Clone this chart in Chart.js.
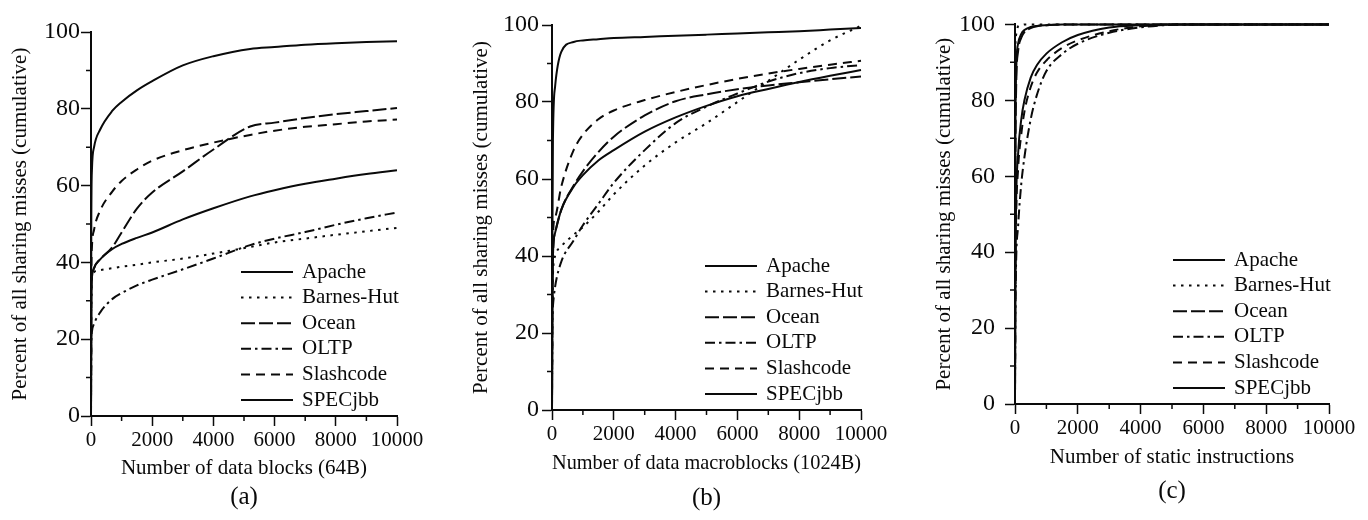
<!DOCTYPE html>
<html>
<head>
<meta charset="utf-8">
<title>Sharing miss footprint</title>
<script src="https://cdn.jsdelivr.net/npm/chart.js@4.4.1/dist/chart.umd.min.js"></script>
<style>
  html, body { margin: 0; padding: 0; background: #fff; }
  #wrap { position: relative; width: 1368px; height: 520px; overflow: hidden; }
  #wrap canvas { position: absolute; top: 0; }
</style>
</head>
<body>
<div id="wrap">
  <canvas id="chart_a" width="456" height="520" style="left:0px"></canvas>
  <canvas id="chart_b" width="456" height="520" style="left:456px"></canvas>
  <canvas id="chart_c" width="456" height="520" style="left:912px"></canvas>
</div>
<script>
// workloads, in legend order
var workloads = ['Apache', 'Barnes-Hut', 'Ocean', 'OLTP', 'Slashcode', 'SPECjbb'];

// axis ticks (labelled) and the small in-between ticks
var xTicks = [0, 2000, 4000, 6000, 8000, 10000];
var xMinor = [1000, 3000, 5000, 7000, 9000];
var yTicks = [0, 20, 40, 60, 80, 100];
var yMinor = [10, 30, 50, 70, 90];

// (a) data blocks (64B)
var blocksX         = [0, 10, 30, 100, 300, 700, 1000, 1500, 2000, 3000, 4000, 5200, 6000, 7000, 8000, 9000, 10000];
var blocksApache    = [0, 30, 36, 38.5, 40.8, 43.5, 44.8, 46.4, 47.8, 51.2, 54.1, 57.2, 58.8, 60.5, 61.8, 63.0, 64.0];
var blocksBarnes    = [0, 30, 36, 37.5, 38, 38.5, 38.9, 39.4, 40, 41, 42.3, 44, 45.2, 46.2, 47.2, 48.1, 49];
var blocksOcean     = [0, 30, 36, 38.5, 40.8, 44, 47.8, 54, 58.2, 63.7, 69.4, 75.4, 76.4, 77.6, 78.6, 79.4, 80.2];
var blocksOLTP      = [0, 18, 22, 24, 27, 30.5, 32, 34, 35.5, 38.2, 41, 44.5, 46.2, 47.9, 49.8, 51.5, 53];
var blocksSlashcode = [0, 35, 44, 48.5, 53.5, 58.5, 61.2, 64.2, 66.5, 69.2, 71.2, 73.2, 74.3, 75.3, 76.0, 76.7, 77.2];
var blocksSPECjbb   = [0, 50, 64, 70, 74.6, 79.5, 81.8, 84.8, 87.2, 91.3, 93.7, 95.6, 96.1, 96.7, 97.1, 97.4, 97.6];

// (b) data macroblocks (1024B)
var macroX         = [0, 10, 30, 100, 300, 700, 1000, 1500, 2000, 3000, 4000, 5000, 6000, 7000, 8000, 9000, 10000];
var macroApache    = [0, 25, 40, 46, 52, 58, 61, 64.8, 67.5, 72.3, 76, 79, 81.5, 83.4, 85.2, 86.8, 88.3];
var macroBarnes    = [0, 25, 35, 40, 42.5, 45.5, 47.5, 51.5, 56, 63.5, 69.5, 74.5, 80, 85.5, 91, 96, 99.8];
var macroOcean     = [0, 25, 40, 46, 52, 58.3, 62, 67, 71, 76.5, 80.2, 82, 83.3, 84.3, 85.1, 85.9, 86.6];
var macroOLTP      = [0, 22, 27, 32, 38.5, 44, 48, 53.5, 59, 67.5, 74.5, 78.8, 82.2, 85.3, 87.5, 88.8, 89.6];
var macroSlashcode = [0, 20, 45, 50, 58, 67.5, 71.5, 75.5, 77.8, 80.5, 82.6, 84.4, 86, 87.4, 88.6, 89.7, 90.7];
var macroSPECjbb   = [0, 40, 70, 84, 93, 95.6, 96.0, 96.3, 96.6, 96.9, 97.2, 97.5, 97.8, 98.1, 98.4, 98.8, 99.2];

// (c) static instructions
var instrX         = [0, 10, 30, 100, 200, 300, 500, 700, 1000, 1500, 2000, 3000, 4000, 5000, 6000, 7000, 8000, 9000, 10000];
var instrApache    = [0, 30, 50, 66, 75, 80, 86, 89.3, 92.3, 95.3, 97.2, 99.2, 99.8, 100, 100, 100, 100, 100, 100];
var instrBarnes    = [0, 90, 97, 99.5, 99.8, 100, 100, 100, 100, 100, 100, 100, 100, 100, 100, 100, 100, 100, 100];
var instrOcean     = [0, 55, 80, 93, 96.5, 98, 99, 99.5, 99.8, 100, 100, 100, 100, 100, 100, 100, 100, 100, 100];
var instrOLTP      = [0, 20, 35, 47, 58, 65, 75, 81.5, 87.7, 92.2, 94.9, 97.8, 99.2, 99.9, 100, 100, 100, 100, 100];
var instrSlashcode = [0, 28, 46, 62, 71, 77, 83.5, 87.3, 90.5, 93.8, 95.8, 98.2, 99.5, 99.9, 100, 100, 100, 100, 100];
var instrSPECjbb   = [0, 60, 85, 95, 97.5, 98.5, 99.3, 99.6, 99.8, 100, 100, 100, 100, 100, 100, 100, 100, 100, 100];

// line pattern per workload
var dashes = [[], [2.5, 5.5], [14, 4], [10, 4, 2.5, 4], [9, 6], []];

var ink = '#0a0a0a';
var serif = '"Liberation Serif", "Times New Roman", serif';
Chart.defaults.font.family = serif;
Chart.defaults.color = ink;

function toPoints(xs, ys) {
	return xs.map(function(x, i) { return { x: x, y: ys[i] }; });
}

function makeDatasets(xs, rows) {
	return rows.map(function(ys, i) {
		return {
			label           : workloads[i],
			data            : toPoints(xs, ys),
			borderColor     : ink,
			borderWidth     : 2,
			borderDash      : dashes[i],
			borderCapStyle  : 'butt',
			pointRadius     : 0,
			fill            : false,
			cubicInterpolationMode : 'monotone',
			clip            : 4
		};
	});
}

// short unlabelled ticks between the numbered ones
var minorTicks = {
	id : 'minorTicks',
	afterDraw : function(chart) {
		var ctx = chart.ctx, xs = chart.scales.x, ys = chart.scales.y;
		ctx.save();
		ctx.strokeStyle = ink;
		ctx.lineWidth = 1.5;
		ctx.beginPath();
		xMinor.forEach(function(v) {
			var px = xs.getPixelForValue(v);
			ctx.moveTo(px, xs.top);
			ctx.lineTo(px, xs.top + 5);
		});
		yMinor.forEach(function(v) {
			var py = ys.getPixelForValue(v);
			ctx.moveTo(ys.right, py);
			ctx.lineTo(ys.right - 5, py);
		});
		ctx.stroke();
		ctx.restore();
	}
};

// key drawn inside the plot, lower right corner
var insideLegend = {
	id : 'insideLegend',
	afterDatasetsDraw : function(chart) {
		var ctx = chart.ctx, area = chart.chartArea;
		var sets = chart.data.datasets, n = sets.length;
		ctx.save();
		ctx.font = '21px ' + serif;
		ctx.textBaseline = 'middle';
		ctx.textAlign = 'left';
		sets.forEach(function(ds, i) {
			var y = area.bottom - 16 - (n - 1 - i) * 25.6;
			ctx.strokeStyle = ds.borderColor;
			ctx.lineWidth = ds.borderWidth;
			ctx.setLineDash(ds.borderDash);
			ctx.beginPath();
			ctx.moveTo(area.right - 156, y);
			ctx.lineTo(area.right - 104, y);
			ctx.stroke();
			ctx.setLineDash([]);
			ctx.fillStyle = ink;
			ctx.fillText(ds.label, area.right - 95, y);
		});
		ctx.restore();
	}
};

// where each plot sits on the page
var panels = [
	{ id: 'chart_a', left: 0,   plot: { l: 91,   r: 397,  t: 32, b: 416 }, yTitleX: 20.5, xTitleY: 468, capY: 497.5, yPad: 1,
	  xTitle: 'Number of data blocks (64B)', caption: '(a)',
	  xs: blocksX, rows: [blocksApache, blocksBarnes, blocksOcean, blocksOLTP, blocksSlashcode, blocksSPECjbb] },
	{ id: 'chart_b', left: 456, plot: { l: 552,  r: 861,  t: 25, b: 410 }, yTitleX: 481, xTitleY: 463, capY: 498, yPad: 3,
	  xTitle: 'Number of data macroblocks (1024B)', caption: '(b)',
	  xs: macroX, rows: [macroApache, macroBarnes, macroOcean, macroOLTP, macroSlashcode, macroSPECjbb] },
	{ id: 'chart_c', left: 912, plot: { l: 1015, r: 1329, t: 18, b: 404 }, yTitleX: 944, xTitleY: 457, capY: 491, yPad: 10,
	  xTitle: 'Number of static instructions', caption: '(c)',
	  xs: instrX, rows: [instrApache, instrBarnes, instrOcean, instrOLTP, instrSlashcode, instrSPECjbb] }
];

var W = 456, H = 520, titleLine = 21 * 1.2, capLine = 25 * 1.2;

panels.forEach(function(p) {
	var capPad = (H - capLine) + capLine / 2 - p.capY;      // gap under the caption
	var capBox = capLine + capPad;
	var xHeight = H - capBox - p.plot.b;
	var xTitlePad = (H - capBox) - p.xTitleY - titleLine / 2;
	var yTitlePad = (p.yTitleX - p.left) - titleLine / 2;

	new Chart(document.getElementById(p.id).getContext('2d'), {
		type    : 'line',
		data    : { datasets: makeDatasets(p.xs, p.rows) },
		options : {
			responsive : false,
			animation  : false,
			layout     : { padding: { top: p.plot.t, right: W - (p.plot.r - p.left), left: 0, bottom: 0 } },
			plugins    : {
				legend  : { display: false },
				tooltip : { enabled: false },
				title   : {
					display  : true,
					position : 'bottom',
					fullSize : false,
					text     : p.caption,
					color    : ink,
					font     : { size: 25, weight: 'normal', family: serif },
					padding  : { top: 0, bottom: capPad }
				}
			},
			scales : {
				x : {
					type : 'linear',
					min  : 0,
					max  : 10000,
					afterBuildTicks : function(s) { s.ticks = xTicks.map(function(v) { return { value: v }; }); },
					afterFit : function(s) { s.height = xHeight; },
					grid   : { drawOnChartArea: false, tickLength: 10, tickWidth: 1.5, tickColor: ink },
					border : { color: ink, width: 2 },
					ticks  : { color: ink, autoSkip: false, maxRotation: 0, padding: 2, font: { size: 21 },
					           callback: function(v) { return String(v); } },
					title  : { display: true, text: p.xTitle, color: ink, font: { size: 21 },
					           padding: { top: 0, bottom: xTitlePad } }
				},
				y : {
					min : 0,
					max : 100,
					afterBuildTicks : function(s) { s.ticks = yTicks.map(function(v) { return { value: v }; }); },
					afterFit : function(s) { s.width = p.plot.l - p.left; },
					grid   : { drawOnChartArea: false, tickLength: 10, tickWidth: 1.5, tickColor: ink },
					border : { color: ink, width: 2 },
					ticks  : { color: ink, autoSkip: false, padding: p.yPad, font: { size: 24 },
					           callback: function(v) { return String(v); } },
					title  : { display: true, text: 'Percent of all sharing misses (cumulative)', color: ink,
					           font: { size: 21 }, padding: { top: yTitlePad, bottom: 0 } }
				}
			}
		},
		plugins : [minorTicks, insideLegend]
	});
});
</script>
</body>
</html>
